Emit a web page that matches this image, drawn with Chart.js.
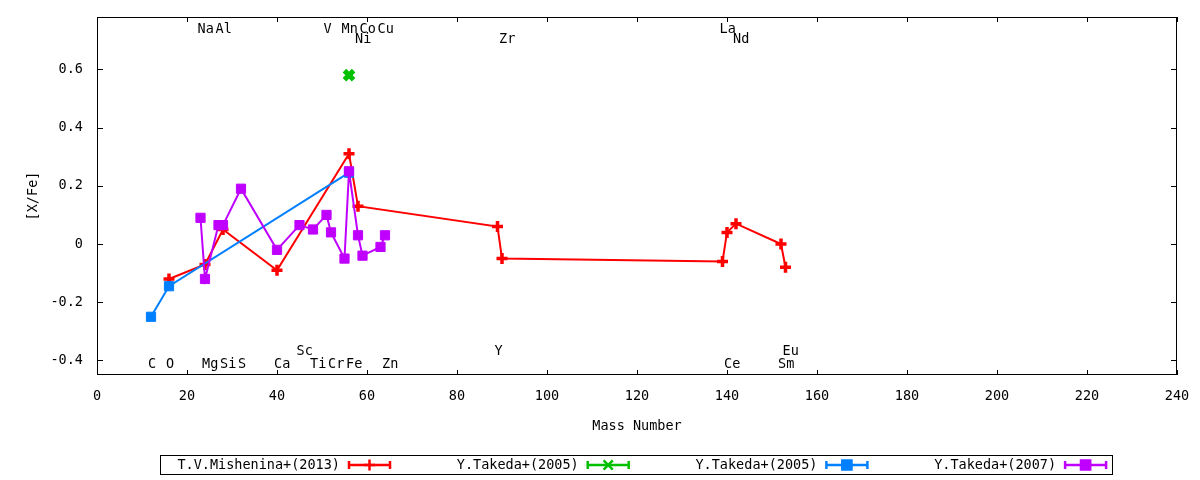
<!DOCTYPE html>
<html>
<head>
<meta charset="utf-8">
<script src="https://cdn.jsdelivr.net/npm/chart.js@4.4.1/dist/chart.umd.min.js"></script>
<style>
  html, body { margin: 0; padding: 0; background: #fff; }
</style>
</head>
<body>
<canvas id="abundancias" width="1200" height="480"></canvas>
<script>
// [X/Fe] por numero masico, una pareja de listas por trabajo
const mishenina13_masa = [16, 24, 28, 40, 56, 58, 89, 90, 139, 140, 142, 152, 153];
const mishenina13_xfe  = [-0.12, -0.07, 0.05, -0.09, 0.31, 0.13, 0.06, -0.05, -0.06, 0.04, 0.07, 0.00, -0.08];

const takeda05a_masa = [56];
const takeda05a_xfe  = [0.58];

const takeda05b_masa = [12, 16, 56];
const takeda05b_xfe  = [-0.25, -0.145, 0.245];

const takeda07_masa = [23, 24, 27, 28, 32, 40, 45, 48, 51, 52, 55, 56, 58, 59, 63, 64];
const takeda07_xfe  = [0.09, -0.12, 0.065, 0.065, 0.19, -0.02, 0.065, 0.05, 0.10, 0.04, -0.05, 0.25, 0.03, -0.04, -0.01, 0.03];

const x_ticks = [0, 20, 40, 60, 80, 100, 120, 140, 160, 180, 200, 220, 240];
const y_ticks = [-0.4, -0.2, 0, 0.2, 0.4, 0.6];

// nombres de elementos, arriba y abajo del grafico
const arriba1 = ['Na', 'Al', 'V', 'Mn', 'Co', 'Cu', 'La'];
const arriba1_masa = [23, 27, 51, 55, 59, 63, 139];
const arriba2 = ['Ni', 'Zr', 'Nd'];
const arriba2_masa = [58, 90, 142];
const abajo1 = ['C', 'O', 'Mg', 'Si', 'S', 'Ca', 'Ti', 'Cr', 'Fe', 'Zn', 'Ce', 'Sm'];
const abajo1_masa = [12, 16, 24, 28, 32, 40, 48, 52, 56, 64, 140, 152];
const abajo2 = ['Sc', 'Y', 'Eu'];
const abajo2_masa = [45, 89, 153];

const fuente = "'DejaVu Sans Mono', monospace";
const font13 = { family: fuente, size: 13.5 };

function puntos(masas, valores) {
    var out = [];
    for (var i = 0; i < masas.length; i++) {
        out.push({ x: masas[i], y: valores[i] });
    }
    return out;
}

// marco, ticks hacia dentro, etiquetas de elementos y leyenda estilo gnuplot
const marco = {
    id: 'marco',
    afterDraw(chart) {
        const c = chart.ctx;
        const a = chart.chartArea;
        const sx = chart.scales.x, sy = chart.scales.y;
        c.save();
        c.strokeStyle = '#000';
        c.lineWidth = 1;
        c.strokeRect(a.left + 0.5, a.top + 0.5, a.right - a.left - 1, a.bottom - a.top - 1);
        c.beginPath();
        sx.ticks.forEach(function(t) {
            var px = Math.round(sx.getPixelForValue(t.value)) + 0.5;
            c.moveTo(px, a.bottom); c.lineTo(px, a.bottom - 5);
            c.moveTo(px, a.top); c.lineTo(px, a.top + 5);
        });
        sy.ticks.forEach(function(t) {
            var py = Math.round(sy.getPixelForValue(t.value)) + 0.5;
            c.moveTo(a.left, py); c.lineTo(a.left + 6, py);
            c.moveTo(a.right, py); c.lineTo(a.right - 6, py);
        });
        c.stroke();

        c.fillStyle = '#000';
        c.font = "13.5px " + fuente;
        c.textAlign = 'left';
        c.textBaseline = 'alphabetic';
        function fila(nombres, masas, y) {
            for (var i = 0; i < nombres.length; i++) {
                c.fillText(nombres[i], sx.getPixelForValue(masas[i]) - 3, y);
            }
        }
        fila(arriba1, arriba1_masa, a.top + 16);
        fila(arriba2, arriba2_masa, a.top + 26);
        fila(abajo1, abajo1_masa, a.bottom - 7);
        fila(abajo2, abajo2_masa, a.bottom - 20);

        // leyenda
        c.strokeStyle = '#000';
        c.lineWidth = 1;
        c.strokeRect(160.5, 455.5, 952, 19);
        const ly = 465;
        chart.data.datasets.forEach(function(ds, i) {
            var fin = 340 + i * 238.7;
            c.fillStyle = '#000';
            c.textAlign = 'right';
            c.textBaseline = 'middle';
            c.fillText(ds.label, fin, ly);
            var x0 = fin + 8, x1 = fin + 51;
            c.strokeStyle = ds.borderColor;
            c.lineWidth = 2.5;
            c.beginPath();
            c.moveTo(x0, ly); c.lineTo(x1, ly);
            c.moveTo(x0 + 1, ly - 4); c.lineTo(x0 + 1, ly + 4);
            c.moveTo(x1 - 1, ly - 4); c.lineTo(x1 - 1, ly + 4);
            c.stroke();
            c.fillStyle = ds.pointBackgroundColor;
            Chart.helpers.drawPoint(c, {
                pointStyle: ds.pointStyle,
                radius: ds.pointRadius,
                rotation: 0,
                borderWidth: ds.pointBorderWidth
            }, (x0 + x1) / 2, ly);
        });
        c.restore();
    }
};

new Chart(document.getElementById('abundancias'), {
    type: 'scatter',
    data: {
        datasets: [{
            label: 'T.V.Mishenina+(2013)',
            data: puntos(mishenina13_masa, mishenina13_xfe),
            showLine: true,
            borderColor: '#ff0000',
            backgroundColor: '#ff0000',
            borderWidth: 2,
            pointStyle: 'cross',
            pointRadius: 5.5,
            pointBorderWidth: 3.5,
            pointBorderColor: '#ff0000',
            pointBackgroundColor: '#ff0000',
            order: 4
        }, {
            label: 'Y.Takeda+(2005)',
            data: puntos(takeda05a_masa, takeda05a_xfe),
            showLine: false,
            borderColor: '#00c000',
            backgroundColor: '#00c000',
            borderWidth: 2,
            pointStyle: 'crossRot',
            pointRadius: 6.5,
            pointBorderWidth: 5,
            pointBorderColor: '#00c000',
            pointBackgroundColor: '#00c000',
            order: 3
        }, {
            label: 'Y.Takeda+(2005)',
            data: puntos(takeda05b_masa, takeda05b_xfe),
            showLine: true,
            borderColor: '#0080ff',
            backgroundColor: '#0080ff',
            borderWidth: 2,
            pointStyle: 'rect',
            pointRadius: 6.5,
            pointBorderWidth: 1,
            pointBorderColor: '#0080ff',
            pointBackgroundColor: '#0080ff',
            order: 2
        }, {
            label: 'Y.Takeda+(2007)',
            data: puntos(takeda07_masa, takeda07_xfe),
            showLine: true,
            borderColor: '#c000ff',
            backgroundColor: '#c000ff',
            borderWidth: 2,
            pointStyle: 'rect',
            pointRadius: 6.5,
            pointBorderWidth: 1,
            pointBorderColor: '#c000ff',
            pointBackgroundColor: '#c000ff',
            order: 1
        }]
    },
    options: {
        responsive: false,
        animation: false,
        devicePixelRatio: 1,
        layout: { padding: { top: 17, right: 23, left: 0, bottom: 0 } },
        plugins: {
            legend: { display: false },
            tooltip: { enabled: false }
        },
        scales: {
            x: {
                type: 'linear',
                min: 0,
                max: 240,
                afterBuildTicks: function(s) { s.ticks = x_ticks.map(function(v) { return { value: v }; }); },
                afterFit: function(s) { s.height = 105; s.paddingLeft = 0; s.paddingRight = 0; },
                grid: { display: false, drawTicks: false },
                border: { display: false },
                ticks: { font: font13, color: '#000', padding: 13, maxRotation: 0, autoSkip: false,
                         callback: function(v) { return String(v); } },
                title: { display: true, text: 'Mass Number', font: font13, color: '#000', padding: { top: 0, bottom: 45 } }
            },
            y: {
                type: 'linear',
                min: -0.45,
                max: 0.78,
                afterBuildTicks: function(s) { s.ticks = y_ticks.map(function(v) { return { value: v }; }); },
                afterFit: function(s) { s.width = 97; s.paddingTop = 0; s.paddingBottom = 0; },
                grid: { display: false, drawTicks: false },
                border: { display: false },
                ticks: { font: font13, color: '#000', padding: 14, autoSkip: false,
                         callback: function(v) { return String(v); } },
                title: { display: true, text: '[X/Fe]', font: font13, color: '#000', padding: { top: 25, bottom: 0 } }
            }
        }
    },
    plugins: [marco]
});
</script>
</body>
</html>
